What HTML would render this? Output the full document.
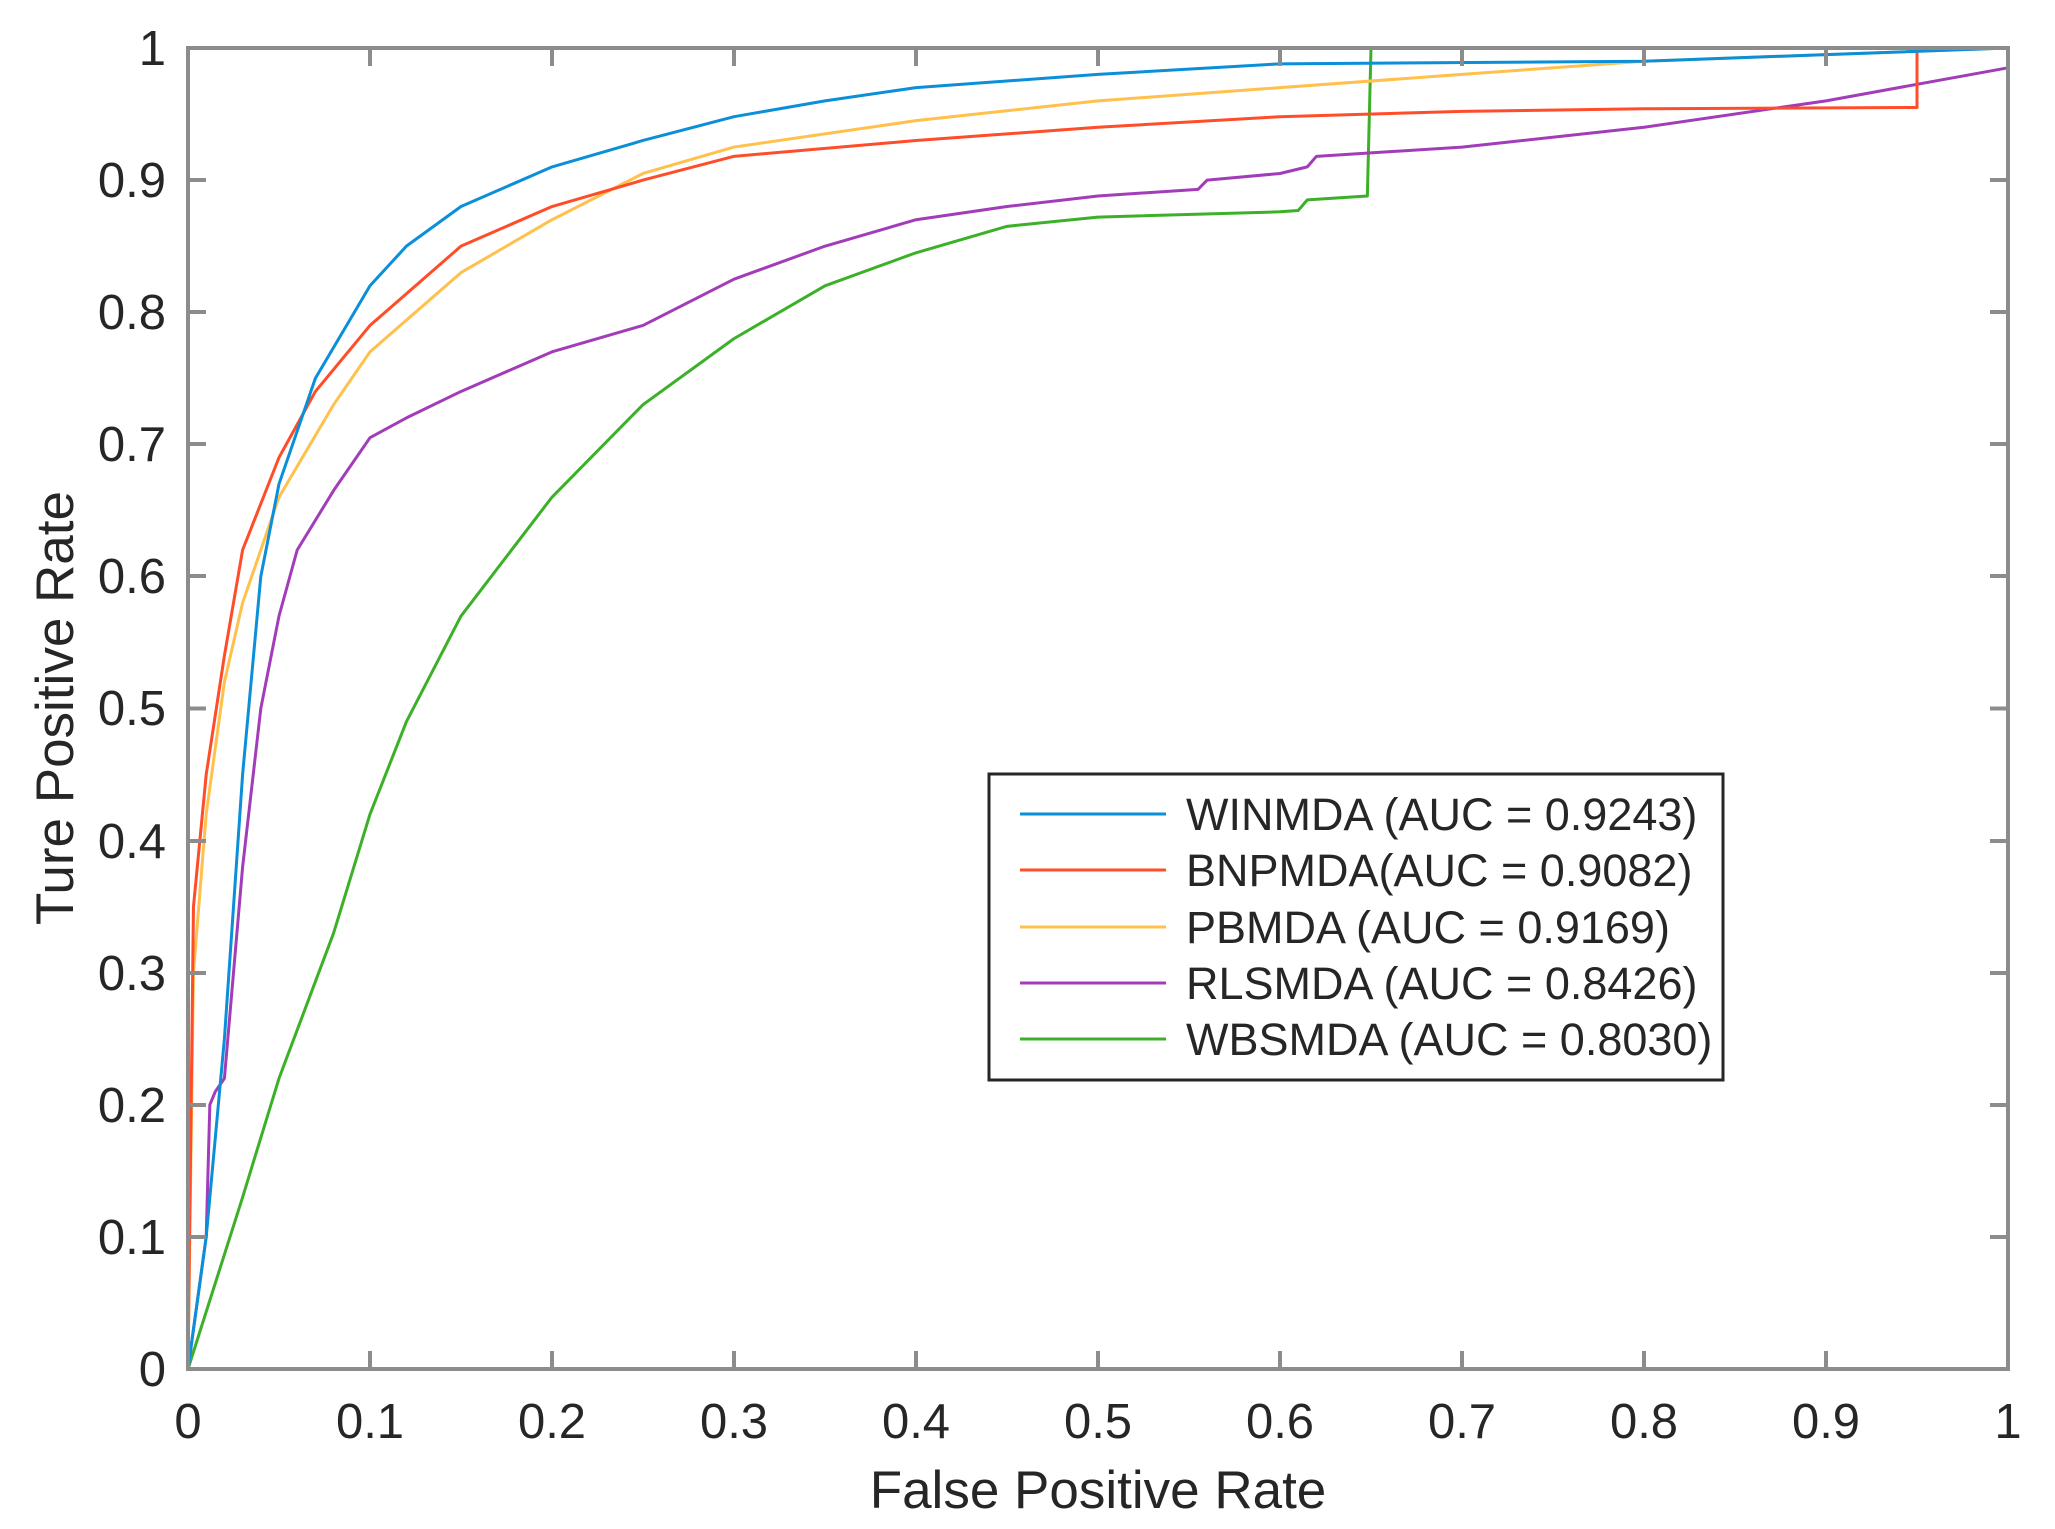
<!DOCTYPE html>
<html><head><meta charset="utf-8"><style>
html,body{margin:0;padding:0;background:#fff;}
svg{display:block;}
text{font-family:"Liberation Sans",Arial,sans-serif;fill:#262626;}
</style></head><body>
<svg width="2055" height="1529" viewBox="0 0 2055 1529" xmlns="http://www.w3.org/2000/svg">
<rect width="2055" height="1529" fill="#fff"/>
<g fill="none" stroke-width="3" stroke-linejoin="round" transform="translate(188,1369) scale(1820,-1321)">
<polyline vector-effect="non-scaling-stroke" stroke="#3cb028" points="0,0 0.03,0.13 0.05,0.22 0.08,0.33 0.1,0.42 0.12,0.49 0.15,0.57 0.2,0.66 0.25,0.73 0.3,0.78 0.35,0.82 0.4,0.845 0.45,0.865 0.5,0.872 0.6,0.876 0.61,0.877 0.615,0.885 0.648,0.888 0.65,1 1,1"/>
<polyline vector-effect="non-scaling-stroke" stroke="#a23cb8" points="0,0 0.01,0.1 0.012,0.2 0.015,0.21 0.02,0.22 0.03,0.38 0.04,0.5 0.05,0.57 0.06,0.62 0.08,0.665 0.1,0.705 0.12,0.72 0.15,0.74 0.2,0.77 0.25,0.79 0.3,0.825 0.35,0.85 0.4,0.87 0.45,0.88 0.5,0.888 0.555,0.893 0.56,0.9 0.6,0.905 0.615,0.91 0.62,0.918 0.7,0.925 0.8,0.94 0.9,0.96 1,0.985"/>
<polyline vector-effect="non-scaling-stroke" stroke="#ffc04c" points="0,0 0.003,0.3 0.01,0.42 0.02,0.52 0.03,0.58 0.05,0.66 0.08,0.73 0.1,0.77 0.15,0.83 0.2,0.87 0.25,0.905 0.3,0.925 0.4,0.945 0.5,0.96 0.6,0.97 0.7,0.98 0.8,0.99 0.9,0.995 1,1"/>
<polyline vector-effect="non-scaling-stroke" stroke="#ff4d2a" points="0,0 0.003,0.35 0.01,0.45 0.02,0.54 0.03,0.62 0.05,0.69 0.07,0.74 0.1,0.79 0.15,0.85 0.2,0.88 0.25,0.9 0.3,0.918 0.4,0.93 0.5,0.94 0.6,0.948 0.7,0.952 0.8,0.954 0.95,0.955 0.95,1 1,1"/>
<polyline vector-effect="non-scaling-stroke" stroke="#0a8fd8" points="0,0 0.01,0.1 0.02,0.25 0.03,0.45 0.04,0.6 0.05,0.67 0.07,0.75 0.1,0.82 0.12,0.85 0.15,0.88 0.2,0.91 0.25,0.93 0.3,0.948 0.35,0.96 0.4,0.97 0.5,0.98 0.6,0.988 0.8,0.99 0.9,0.995 1,1"/>
</g>
<g stroke="#8c8c8c" stroke-width="4" fill="none">
<rect x="188" y="48" width="1820" height="1321"/>
<path d="M370,1369v-18M552,1369v-18M734,1369v-18M916,1369v-18M1098,1369v-18M1280,1369v-18M1462,1369v-18M1644,1369v-18M1826,1369v-18
M370,48v18M552,48v18M734,48v18M916,48v18M1098,48v18M1280,48v18M1462,48v18M1644,48v18M1826,48v18
M188,180h18M188,312h18M188,444h18M188,576h18M188,708.5h18M188,841h18M188,973h18M188,1105h18M188,1237h18
M2008,180h-18M2008,312h-18M2008,444h-18M2008,576h-18M2008,708.5h-18M2008,841h-18M2008,973h-18M2008,1105h-18M2008,1237h-18"/>
</g>
<g font-size="49" text-anchor="middle">
<text x="188" y="1438">0</text><text x="370" y="1438">0.1</text><text x="552" y="1438">0.2</text><text x="734" y="1438">0.3</text><text x="916" y="1438">0.4</text><text x="1098" y="1438">0.5</text><text x="1280" y="1438">0.6</text><text x="1462" y="1438">0.7</text><text x="1644" y="1438">0.8</text><text x="1826" y="1438">0.9</text><text x="2008" y="1438">1</text>
</g>
<g font-size="49" text-anchor="end">
<text x="166" y="65">1</text><text x="166" y="197">0.9</text><text x="166" y="329">0.8</text><text x="166" y="461">0.7</text><text x="166" y="593">0.6</text><text x="166" y="725">0.5</text><text x="166" y="858">0.4</text><text x="166" y="990">0.3</text><text x="166" y="1122">0.2</text><text x="166" y="1254">0.1</text><text x="166" y="1386">0</text>
</g>
<text x="1098" y="1508" font-size="53" text-anchor="middle">False Positive Rate</text>
<text transform="translate(73,708) rotate(-90)" font-size="53" text-anchor="middle">Ture Positive Rate</text>
<rect x="989" y="774" width="734" height="306" fill="#fff" stroke="#262626" stroke-width="3"/>
<g stroke-width="3">
<line x1="1020" y1="814" x2="1166" y2="814" stroke="#0a8fd8"/>
<line x1="1020" y1="870" x2="1166" y2="870" stroke="#ff4d2a"/>
<line x1="1020" y1="927" x2="1166" y2="927" stroke="#ffc04c"/>
<line x1="1020" y1="983" x2="1166" y2="983" stroke="#a23cb8"/>
<line x1="1020" y1="1039" x2="1166" y2="1039" stroke="#3cb028"/>
</g>
<g font-size="45">
<text x="1186" y="830">WINMDA (AUC = 0.9243)</text>
<text x="1186" y="886">BNPMDA(AUC = 0.9082)</text>
<text x="1186" y="943">PBMDA (AUC = 0.9169)</text>
<text x="1186" y="999">RLSMDA (AUC = 0.8426)</text>
<text x="1186" y="1055">WBSMDA (AUC = 0.8030)</text>
</g>
</svg>
</body></html>
